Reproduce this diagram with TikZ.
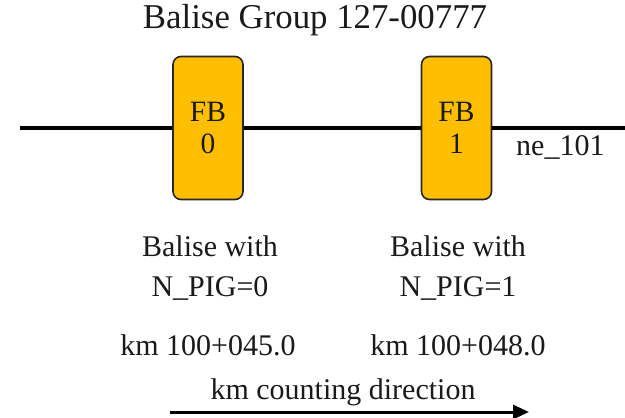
\documentclass[tikz,border=0pt]{standalone}
\usepackage{fontspec}
\setmainfont{Liberation Serif}
\usetikzlibrary{arrows.meta}
\definecolor{balisefill}{HTML}{FFBF00}
\definecolor{txt}{HTML}{1A1A1A}
\tikzset{
  balisebox/.style={draw=black!85, line width=1.6pt, fill=balisefill, rounded corners=8pt,
    minimum width=70pt, minimum height=143pt, inner sep=0pt, align=center,
    font=\fontsize{29.5}{32}\selectfont, text=txt},
  lbl/.style={font=\fontsize{30}{40}\selectfont, text=txt, align=center, inner sep=0pt},
  track/.style={line width=4.2pt, black},
  dirarrow/.style={line width=3pt, -{Triangle[length=16pt,width=14pt]}}
}
\begin{document}
\begin{tikzpicture}[x=1pt,y=-1pt]
\useasboundingbox (0,0) rectangle (625,418);
\node[lbl, font=\fontsize{34.8}{36}\selectfont] (title) at (315,20) {Balise Group 127-00777};
\coordinate (tl) at (20,128);
\coordinate (tr) at (625,128);
\node[balisebox] (fb0) at (208,128) {FB\\0};
\node[balisebox] (fb1) at (456.5,128) {FB\\1};
\draw[track] (tl) -- (fb0.west);
\draw[track] (fb0.east) -- (fb1.west);
\draw[track] (fb1.east) -- (tr);
\node[lbl, anchor=west] (ne) at (516,147) {ne\_101};
\node[lbl] (d0) at (210,268) {Balise with\\N\_PIG=0};
\node[lbl] (d1) at (458,268) {Balise with\\N\_PIG=1};
\node[lbl] (k0) at (208,345) {km 100+045.0};
\node[lbl] (k1) at (458,345) {km 100+048.0};
\node[lbl] (dir) at (343,392) {km counting direction};
\coordinate (as) at (170,412);
\coordinate (ae) at (529,412);
\draw[dirarrow] (as) -- (ae);
\end{tikzpicture}
\end{document}
